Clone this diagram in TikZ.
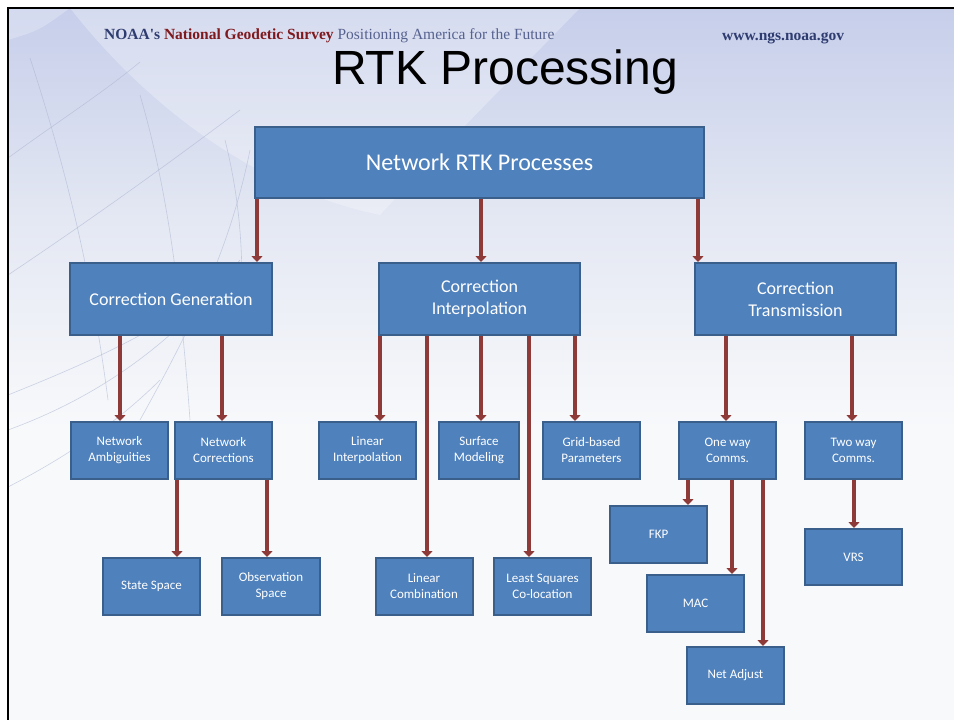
\documentclass[tikz,border=0pt]{standalone}
\usepackage{fontspec}
\setmainfont{Carlito}
\newfontfamily\hdrfont{Liberation Serif}
\newfontfamily\titlefont{Liberation Sans}
\usetikzlibrary{arrows.meta}
\definecolor{boxfill}{HTML}{4F81BD}
\definecolor{boxline}{HTML}{3A5F8B}
\definecolor{arrred}{HTML}{8E3A38}
\definecolor{bgtop}{HTML}{C6CEEA}
\definecolor{bgmid}{HTML}{E4E8F3}
\definecolor{bgbot}{HTML}{F8F9FB}
\definecolor{swirl}{HTML}{A9B3D0}
\definecolor{navyhdr}{HTML}{2F3C70}
\definecolor{redhdr}{HTML}{7E1A1E}
\definecolor{grayhdr}{HTML}{56628F}
\newcommand\myarr[4]{%
  \coordinate (#1-#3-s) at ([xshift=#2]#1.south west);
  \draw[arr] (#1-#3-s) -- (#1-#3-s |- #3.north) #4;}
\begin{document}
\begin{tikzpicture}[x=1pt,y=-1pt,
  box/.style={draw=boxline, fill=boxfill, line width=2pt, text=white,
    align=center, inner sep=0pt},
  bigbox/.style={box, font=\fontsize{24}{28}\selectfont},
  midbox/.style={box, minimum width=201, minimum height=72,
    font=\fontsize{18}{22}\selectfont},
  smallbox/.style={box, minimum width=97, minimum height=57,
    font=\fontsize{13}{16}\selectfont},
  arr/.style={draw=arrred, line width=4.5pt,
    -{Triangle[length=6pt,width=11pt]}},
  swirlline/.style={draw=swirl, line width=0.6pt, opacity=0.55}]
\useasboundingbox (0,0) rectangle (954,720);
% background
\fill[white] (0,0) rectangle (954,720);
\fill[bgbot] (8,8) rectangle (954,720);
\shade[top color=bgtop, bottom color=bgbot, middle color=bgmid]
  (8,8) rectangle (954,430);
\fill[white, opacity=0.28] (70,8) .. controls (150,110) and (260,190) ..
  (380,215) .. controls (430,160) and (520,70) .. (580,8) -- cycle;
\fill[white, opacity=0.25] (8,8) -- (70,8) .. controls (40,30) .. (8,40) -- cycle;
% swirl lines on the left
\draw[swirlline] (8,158) .. controls (60,120) and (100,95) .. (140,62);
\draw[swirlline] (8,275) .. controls (90,220) and (160,170) .. (240,110);
\draw[swirlline] (30,58) .. controls (60,150) and (90,260) .. (108,400);
\draw[swirlline] (140,95) .. controls (165,180) and (180,280) .. (190,420);
\draw[swirlline] (225,140) .. controls (240,200) and (245,260) .. (240,330);
\draw[swirlline] (8,395) .. controls (70,370) and (130,345) .. (200,300);
\draw[swirlline] (8,430) .. controls (90,400) and (170,350) .. (240,260);
\draw[swirlline] (8,487) .. controls (70,455) and (120,420) .. (160,380);
\draw[swirlline] (250,150) .. controls (230,250) and (190,330) .. (140,420);
% frame
\draw[black, line width=2pt] (8,720) -- (8,8) -- (954,8);
% header
\node[anchor=base west, inner sep=0pt, font=\hdrfont\fontsize{15.5}{18}\selectfont]
  (hdr) at (104,39) {\textcolor{navyhdr}{\bfseries NOAA's}
  \textcolor{redhdr}{\bfseries National Geodetic Survey}
  \textcolor{grayhdr}{Positioning America for the Future}};
\node[anchor=base west, inner sep=0pt, text=navyhdr,
  font=\hdrfont\bfseries\fontsize{15.5}{18}\selectfont]
  (web) at (722,40) {www.ngs.noaa.gov};
\node[anchor=base, inner sep=0pt, font=\titlefont\fontsize{48}{54}\selectfont]
  (title) at (505,84) {RTK Processing};
% boxes
\node[bigbox, minimum width=449, minimum height=71] (top) at (479.5,162.5)
  {Network RTK Processes};
\node[midbox, minimum width=202] (cg) at (171,299) {Correction Generation};
\node[midbox] (ci) at (479.5,299) {Correction\\Interpolation};
\node[midbox] (ct) at (795.5,299) {Correction\\Transmission};
\node[smallbox] (na) at (119.5,450.5) {Network\\Ambiguities};
\node[smallbox] (nc) at (223.5,450.5) {Network\\Corrections};
\node[smallbox] (li) at (367.5,450.5) {Linear\\Interpolation};
\node[smallbox, minimum width=80] (sm) at (479,450.5) {Surface\\Modeling};
\node[smallbox] (gb) at (591.5,450.5) {Grid-based\\Parameters};
\node[smallbox] (ow) at (727.5,450.5) {One way\\Comms.};
\node[smallbox] (tw) at (853.5,450.5) {Two way\\Comms.};
\node[smallbox] (ss) at (151.5,586.5) {State Space};
\node[smallbox, minimum width=98] (os) at (271,586.5) {Observation\\Space};
\node[smallbox] (lc) at (424,586.5) {Linear\\Combination};
\node[smallbox] (lsq) at (542.5,586.5) {Least Squares\\Co-location};
\node[smallbox] (fkp) at (658.5,534.5) {FKP};
\node[smallbox] (mac) at (695.5,603.5) {MAC};
\node[smallbox] (nadj) at (735.5,675.5) {Net Adjust};
\node[smallbox, minimum height=56] (vrs) at (853.5,557) {VRS};
% arrows
\myarr{top}{3}{cg}{}
\myarr{top}{227}{ci}{}
\myarr{top}{444}{ct}{}
\myarr{cg}{51}{na}{}
\myarr{cg}{153}{nc}{}
\myarr{ci}{2}{li}{}
\myarr{ci}{49}{lc}{}
\myarr{ci}{103}{sm}{}
\myarr{ci}{151}{lsq}{}
\myarr{ci}{197}{gb}{}
\myarr{ct}{32}{ow}{}
\myarr{ct}{158}{tw}{}
\myarr{nc}{3}{ss}{}
\myarr{nc}{93}{os}{}
\myarr{ow}{10}{fkp}{}
\myarr{ow}{54}{mac}{}
\myarr{ow}{85}{nadj}{}
\myarr{tw}{50}{vrs}{}
\end{tikzpicture}
\end{document}
